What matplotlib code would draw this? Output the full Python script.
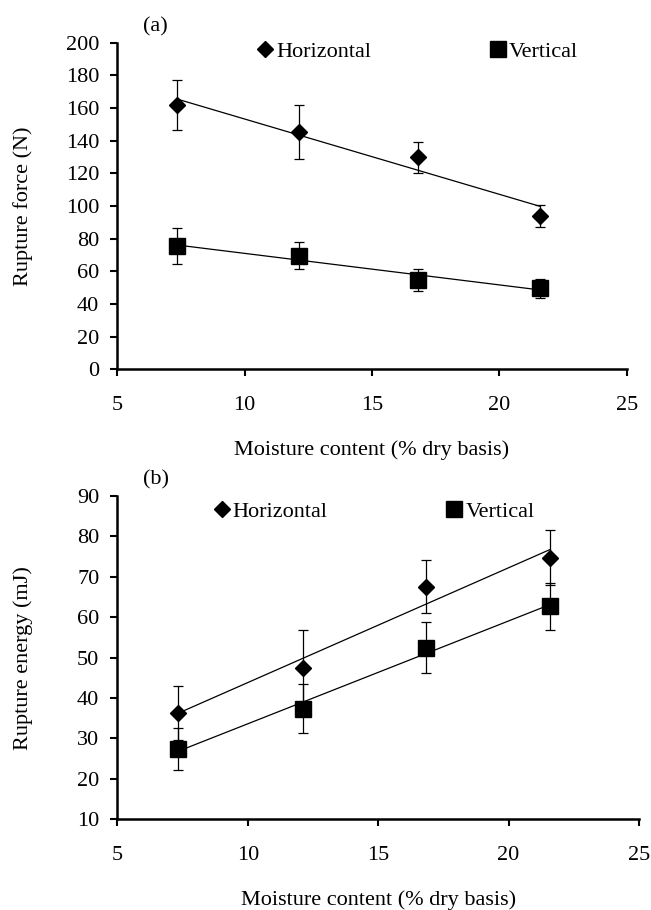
import numpy as np
import matplotlib.pyplot as plt
from matplotlib.lines import Line2D

plt.rcParams['font.family'] = ['Liberation Serif', 'DejaVu Serif']
plt.rcParams['font.size'] = 16

# moisture content (% dry basis)
moisture = [7.33, 12.12, 16.82, 21.6]

# (a) rupture force, N
force_h = [161.8, 145.1, 129.8, 93.9]
force_h_err = [15.1, 16.5, 9.4, 6.9]
force_v = [75.3, 69.6, 54.9, 49.6]
force_v_err = [11.1, 8.1, 6.8, 5.7]

# (b) rupture energy, mJ
energy_h = [36.4, 47.4, 67.6, 74.7]
energy_h_err = [6.7, 9.5, 6.5, 6.8]
energy_v = [27.4, 37.4, 52.5, 62.7]
energy_v_err = [5.2, 6.1, 6.3, 5.8]

xticks = [5, 10, 15, 20, 25]


def draw_series(ax, x, y, err, marker, ms):
    x = np.array(x)
    y = np.array(y)
    ax.errorbar(x, y, yerr=err, fmt='none', ecolor='black', elinewidth=0.9,
                capsize=3.8, capthick=0.9, zorder=2)
    k, b = np.polyfit(x, y, 1)
    xs = np.array([x.min(), x.max()])
    ax.plot(xs, k * xs + b, color='black', lw=0.9, zorder=3)
    ax.plot(x, y, linestyle='none', marker=marker, ms=ms, color='black',
            zorder=4)


def style_axes(ax, ylim, ystep, ylabel, tag, leg_anchor, ylab_x):
    ax.set_xlim(5, 25)
    ax.set_ylim(*ylim)
    ax.set_xticks(xticks)
    ax.set_yticks(np.arange(ylim[0], ylim[1] + 1, ystep))
    for side in ['top', 'right']:
        ax.spines[side].set_visible(False)
    for side in ['left', 'bottom']:
        ax.spines[side].set_linewidth(1.8)
    ax.tick_params(axis='both', direction='out', length=5, width=1.5,
                   labelsize=16)
    ax.tick_params(axis='y', pad=8)
    ax.tick_params(axis='x', pad=14)
    ax.set_xlabel('Moisture content (% dry basis)', fontsize=16,
                  labelpad=18.5)
    ax.set_ylabel(ylabel, fontsize=16)
    ax.yaxis.set_label_coords(ylab_x, 0.5)
    ax.text(0.05, 1.02, tag, transform=ax.transAxes, fontsize=16,
            ha='left', va='bottom')
    handles = [
        Line2D([], [], linestyle='none', marker='D', ms=8, color='black',
               label='Horizontal'),
        Line2D([], [], linestyle='none', marker='s', ms=11, color='black',
               label='Vertical'),
    ]
    ax.legend(handles=handles, ncol=2, loc='upper left',
              bbox_to_anchor=leg_anchor, frameon=False, borderpad=0,
              borderaxespad=0, handlelength=0.6, handletextpad=0.2,
              columnspacing=5.4, fontsize=16)


fig = plt.figure(figsize=(6.51, 9.10), dpi=100)
ax1 = fig.add_axes([0.1802, 0.5942, 0.7825, 0.3589])
ax2 = fig.add_axes([0.1802, 0.0997, 0.8014, 0.3552])

draw_series(ax1, moisture, force_h, force_h_err, 'D', 8)
draw_series(ax1, moisture, force_v, force_v_err, 's', 11)
style_axes(ax1, (0, 200), 20, 'Rupture force (N)', '(a)', (0.277, 1.004),
           -0.165)

draw_series(ax2, moisture, energy_h, energy_h_err, 'D', 8)
draw_series(ax2, moisture, energy_v, energy_v_err, 's', 11)
style_axes(ax2, (10, 90), 10, 'Rupture energy (mJ)', '(b)', (0.187, 0.984),
           -0.162)

fig.savefig('out.png', dpi=100)
